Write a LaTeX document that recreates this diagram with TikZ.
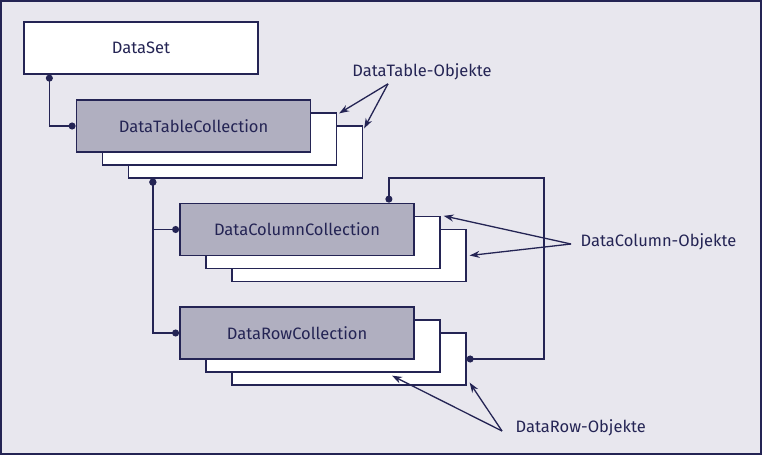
\documentclass[tikz,border=0pt]{standalone}
\usepackage{fontspec}
\setmainfont{Fira Sans}
\usetikzlibrary{arrows.meta}
\definecolor{ink}{RGB}{36,36,84}
\definecolor{paper}{RGB}{232,231,238}
\definecolor{boxgray}{RGB}{176,175,192}
\tikzset{
    diagram/.style={x=1pt,y=-1pt,line width=1.3pt,draw=ink},
    wbox/.style={rectangle,draw=ink,line width=1.3pt,fill=white,minimum width=234pt,minimum height=52pt,inner sep=0pt,text=ink,font=\fontsize{16.5}{19}\selectfont},
    gbox/.style={wbox,fill=boxgray,line width=1.8pt},
    lbl/.style={text=ink,inner sep=0pt,font=\fontsize{16.5}{19}\selectfont},
    conn/.style={draw=ink,{Circle[length=7pt,width=7pt]}-{Circle[length=7pt,width=7pt]}},
    pointer/.style={draw=ink,-{Stealth[length=10pt,width=7pt]}},
}
\begin{document}
\begin{tikzpicture}[diagram]
\useasboundingbox (0,0) rectangle (762,455);
\draw[fill=paper,line width=2pt] (1,1) rectangle (761,454);
% DataSet und Tabellen
\node[wbox] (dataset) at (141,48) {DataSet};
\node[wbox] (dtcb2) at (245.5,152) {};
\node[wbox] (dtcb1) at (219.5,139) {};
\node[gbox] (dtc) at (193.5,126) {DataTableCollection};
% Spalten
\node[wbox] (dccb2) at (349,255.5) {};
\node[wbox] (dccb1) at (323,242.5) {};
\node[gbox] (dcc) at (297,229.5) {DataColumnCollection};
% Zeilen
\node[wbox] (drcb2) at (349,359) {};
\node[wbox] (drcb1) at (323,346) {};
\node[gbox] (drc) at (297,333) {DataRowCollection};
\coordinate (loop) at (544,178);
\draw[conn] ([xshift=26pt]dataset.south west) |- (dtc.west);
\draw[conn] ([xshift=25pt]dtcb2.south west) |- (dcc.west);
\draw[conn] ([xshift=25pt]dtcb2.south west) |- (drc.west);
\draw[conn] (drcb2.east) -| (loop) -| ([xshift=-26pt]dcc.north east);
% Beschriftungen
\node[lbl] (tlbl) at (422,72) {DataTable-Objekte};
\node[lbl,anchor=west] (clbl) at (580,242) {DataColumn-Objekte};
\node[lbl,anchor=west] (rlbl) at (515,428) {DataRow-Objekte};
\path
    ([xshift=-34pt,yshift=-3pt]tlbl.south) edge[pointer] ([xshift=2pt,yshift=-1pt]dtcb1.north east)
    ([xshift=-34pt,yshift=-3pt]tlbl.south) edge[pointer] ([xshift=1pt,yshift=-3pt]dtcb2.north east)
    ([xshift=-9pt,yshift=-2pt]clbl.west) edge[pointer] ([xshift=3pt]dccb1.north east)
    ([xshift=-9pt,yshift=-2pt]clbl.west) edge[pointer] ([xshift=3pt]dccb2.east)
    ([xshift=-13pt,yshift=-3pt]rlbl.west) edge[pointer] ([xshift=69pt,yshift=-3pt]drcb1.south)
    ([xshift=-13pt,yshift=-3pt]rlbl.west) edge[pointer] ([xshift=3pt,yshift=3pt]drcb2.south east)
;
\end{tikzpicture}
\end{document}
